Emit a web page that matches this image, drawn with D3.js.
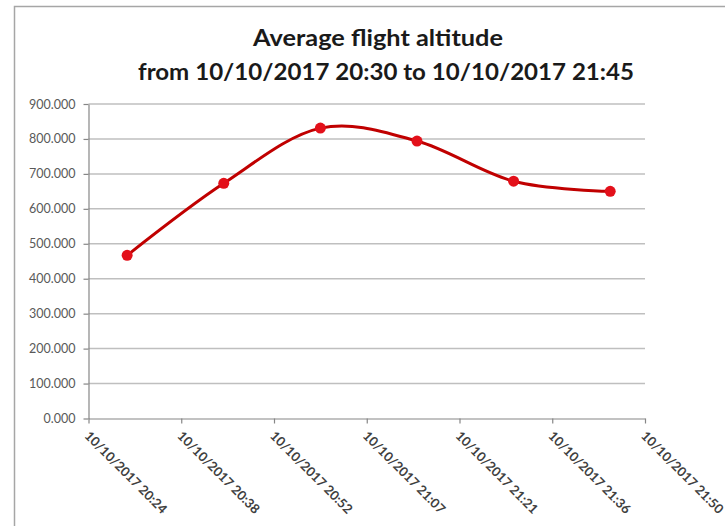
<!DOCTYPE html>
<html>
<head>
<meta charset="utf-8">
<script src="https://cdn.jsdelivr.net/npm/d3@7"></script>
<style>
  html, body { margin: 0; padding: 0; background: #fff; }
  svg { display: block; }
</style>
</head>
<body>
<svg id="chart" width="725" height="526"></svg>
<script>
// Sample times (10/10/2017) and average altitude at each
const sampleTimes = ["20:30", "20:45", "21:00", "21:15", "21:30", "21:45"];
const altitudes = [467, 673, 831, 794, 679, 650];

// Date-axis ticks (major unit 0.01 day) and their labels
const tickTimes = ["20:24:00", "20:38:24", "20:52:48", "21:07:12", "21:21:36", "21:36:00", "21:50:24"];
const tickLabels = [
  "10/10/2017 20:24", "10/10/2017 20:38", "10/10/2017 20:52", "10/10/2017 21:07",
  "10/10/2017 21:21", "10/10/2017 21:36", "10/10/2017 21:50"
];
const yTicks = [0, 100, 200, 300, 400, 500, 600, 700, 800, 900];

const titleLines = ["Average flight altitude", "from 10/10/2017 20:30 to 10/10/2017 21:45"];

const parseTime = d3.timeParse("%Y-%m-%d %H:%M:%S");
const toDate = t => parseTime("2017-10-10 " + (t.length === 5 ? t + ":00" : t));

const svg = d3.select("#chart");

// chart frame
svg.append("rect")
  .attr("x", 14.5).attr("y", 6.5)
  .attr("width", 800).attr("height", 600)
  .attr("fill", "#fff")
  .attr("stroke", "#a6a6a6").attr("stroke-width", 1.5);

// titles
const titleFont = "Lato, 'Open Sans', sans-serif";
svg.append("text")
  .attr("x", 378).attr("y", 46)
  .attr("text-anchor", "middle")
  .attr("font-family", titleFont).attr("font-weight", "bold")
  .attr("font-size", 22).attr("fill", "#1a1a1a")
  .attr("textLength", 250).attr("lengthAdjust", "spacingAndGlyphs")
  .text(titleLines[0]);
svg.append("text")
  .attr("x", 386).attr("y", 80)
  .attr("text-anchor", "middle")
  .attr("font-family", titleFont).attr("font-weight", "bold")
  .attr("font-size", 22).attr("fill", "#1a1a1a")
  .attr("textLength", 496).attr("lengthAdjust", "spacingAndGlyphs")
  .text(titleLines[1]);

// scales
const x = d3.scaleTime()
  .domain([toDate(tickTimes[0]), toDate(tickTimes[tickTimes.length - 1])])
  .range([88.5, 645]);
const y = d3.scaleLinear().domain([0, 900]).range([418.5, 104]);

// horizontal gridlines
svg.append("g")
  .selectAll("line")
  .data(yTicks.filter(d => d > 0))
  .join("line")
  .attr("x1", 88.5).attr("x2", 645)
  .attr("y1", d => y(d)).attr("y2", d => y(d))
  .attr("stroke", "#bfbfbf").attr("stroke-width", 1.5);

// y axis
const yAxis = svg.append("g")
  .attr("transform", "translate(88.5,0)")
  .call(d3.axisLeft(y).tickValues(yTicks).tickFormat(d3.format(".3f")).tickSize(5).tickSizeOuter(0));
yAxis.select(".domain").attr("stroke", "#868686").attr("stroke-width", 1.2);
yAxis.selectAll(".tick line").attr("stroke", "#868686").attr("stroke-width", 1.2);
yAxis.selectAll(".tick text")
  .attr("x", -13)
  .attr("font-family", "Lato, sans-serif").attr("font-size", 12.5)
  .attr("fill", "#595959");

// x axis
const xAxis = svg.append("g")
  .attr("transform", "translate(0,418.5)")
  .call(d3.axisBottom(x)
    .tickValues(tickTimes.map(toDate))
    .tickFormat((d, i) => tickLabels[i])
    .tickSize(5).tickSizeOuter(0));
xAxis.select(".domain").attr("stroke", "#868686").attr("stroke-width", 1.2);
xAxis.selectAll(".tick line").attr("stroke", "#868686").attr("stroke-width", 1.2);
xAxis.selectAll(".tick text")
  .attr("text-anchor", "start")
  .attr("x", 0).attr("y", 0).attr("dy", "0.35em")
  .attr("transform", "translate(-2,15) rotate(45)")
  .attr("font-family", "Lato, sans-serif").attr("font-size", 13)
  .attr("font-weight", "bold")
  .attr("fill", "#404040")
  .attr("textLength", 110).attr("lengthAdjust", "spacingAndGlyphs");

// smoothed series line
const points = sampleTimes.map((t, i) => ({ t: toDate(t), v: altitudes[i] }));
const line = d3.line()
  .x(d => x(d.t)).y(d => y(d.v))
  .curve(d3.curveCardinal.tension(0));
svg.append("path")
  .datum(points)
  .attr("d", line)
  .attr("fill", "none")
  .attr("stroke", "#c00000")
  .attr("stroke-width", 3)
  .attr("stroke-linejoin", "round");

// markers
svg.append("g")
  .selectAll("circle")
  .data(points)
  .join("circle")
  .attr("cx", d => x(d.t)).attr("cy", d => y(d.v))
  .attr("r", 5.5)
  .attr("fill", "#e3101a");
</script>
</body>
</html>
